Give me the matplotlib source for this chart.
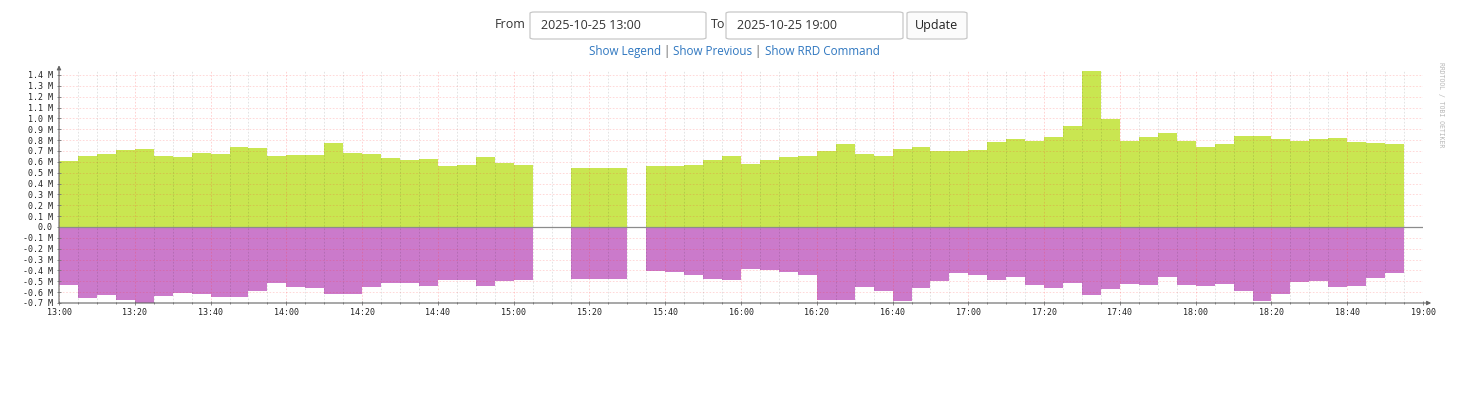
import numpy as np
import pandas as pd
import matplotlib
matplotlib.use("Agg")
import matplotlib.pyplot as plt
import matplotlib.dates as mdates
from matplotlib.patches import FancyBboxPatch

# ---------------------------
# Data (values in millions, 5-minute steps from 13:00)
# ---------------------------
start_time = "2025-10-25 13:00"
end_time = "2025-10-25 19:00"

inbound = [
    0.608, 0.657, 0.675, 0.712, 0.715, 0.651, 0.641, 0.681, 0.672, 0.733, 0.727, 0.654,
    0.666, 0.663, 0.777, 0.681, 0.672, 0.632, 0.614, 0.626, 0.565, 0.568, 0.641, 0.589,
    0.571, np.nan, np.nan, 0.546, 0.546, 0.546, np.nan, 0.562, 0.562, 0.568, 0.620, 0.657,
    0.580, 0.617, 0.645, 0.657, 0.700, 0.764, 0.669, 0.654, 0.718, 0.733, 0.700, 0.700,
    0.706, 0.783, 0.810, 0.792, 0.832, 0.933, 1.437, 0.994, 0.789, 0.826, 0.863, 0.789,
    0.737, 0.767, 0.838, 0.838, 0.810, 0.795, 0.807, 0.820, 0.783, 0.773, 0.767, np.nan,
]
outbound = [
    -0.534, -0.651, -0.626, -0.669, -0.703, -0.635, -0.605, -0.620, -0.641, -0.644, -0.586, -0.516,
    -0.553, -0.565, -0.614, -0.614, -0.553, -0.516, -0.516, -0.543, -0.491, -0.491, -0.540, -0.500,
    -0.488, np.nan, np.nan, -0.479, -0.479, -0.479, np.nan, -0.405, -0.411, -0.445, -0.479, -0.485,
    -0.384, -0.399, -0.417, -0.439, -0.675, -0.669, -0.555, -0.586, -0.678, -0.565, -0.497, -0.424,
    -0.445, -0.491, -0.463, -0.537, -0.565, -0.516, -0.629, -0.571, -0.525, -0.531, -0.457, -0.531,
    -0.543, -0.528, -0.592, -0.681, -0.617, -0.506, -0.497, -0.549, -0.543, -0.470, -0.421, np.nan,
]
y_ticks = [round(v, 1) for v in np.arange(-0.7, 1.41, 0.1)]

link_parts = ["Show Legend", " | ", "Show Previous", " | ", "Show RRD Command"]

GREEN = "#c9e651"
PURPLE = "#cb7acb"
LINK = "#2f77c0"

# ---------------------------
# Figure
# ---------------------------
W, H = 1483, 418
fig = plt.figure(figsize=(W / 100, H / 100), dpi=100)
fig.patch.set_facecolor("white")


def fx(px):
    return px / W


def fy(py):
    return 1 - py / H


def rounded_box(x0, x1, y0, y1, face):
    box = FancyBboxPatch((fx(x0), fy(y1)), fx(x1 - x0), (y1 - y0) / H,
                         boxstyle="round,pad=0,rounding_size=0.003",
                         transform=fig.transFigure, facecolor=face, edgecolor="#c8c8c8", lw=0.9)
    fig.add_artist(box)


# ---------------------------
# Top form: inputs, button, links
# ---------------------------
ui_font = "Open Sans"
fig.text(fx(526), fy(25), "From", ha="right", va="center", fontsize=9, color="#333333", family=ui_font)
fig.text(fx(711), fy(25), "To", ha="left", va="center", fontsize=9, color="#333333", family=ui_font)
for x0, x1, label in [(530, 706, "2025-10-25 13:00"), (726, 903, "2025-10-25 19:00")]:
    rounded_box(x0, x1, 12, 39, "white")
    fig.text(fx(x0 + 11), fy(25.5), label, ha="left", va="center", fontsize=9,
             color="#333333", family=ui_font)
rounded_box(907, 967, 12, 39, "#fbfbfb")
fig.text(fx(937), fy(25.5), "Update", ha="center", va="center", fontsize=9, color="#222222", family=ui_font)

fig.canvas.draw()
renderer = fig.canvas.get_renderer()
x_px = 589
for part in link_parts:
    col = "#555555" if part.strip() == "|" else LINK
    t = fig.text(fx(x_px), fy(51.5), part, ha="left", va="center", fontsize=8.4,
                 color=col, family=ui_font)
    x_px += t.get_window_extent(renderer).width

# ---------------------------
# Graph
# ---------------------------
ax = fig.add_axes([fx(59), 115 / H, fx(1423 - 59), 233.5 / H])

edges = pd.date_range(start_time, end_time, freq="5min")
edge_num = mdates.date2num(edges)

ax.stairs(np.array(inbound), edge_num, baseline=0, fill=True, color=GREEN, lw=0, zorder=1)
ax.stairs(np.array(outbound), edge_num, baseline=0, fill=True, color=PURPLE, lw=0, zorder=1)
ax.axhline(0, color="#8c8c8c", lw=0.9, zorder=3)

ax.set_xlim(edge_num[0], edge_num[-1])
ax.set_ylim(-0.7, 1.45)

ax.xaxis.set_major_locator(mdates.MinuteLocator(byminute=[0, 20, 40]))
ax.xaxis.set_minor_locator(mdates.MinuteLocator(byminute=range(0, 60, 5)))
ax.xaxis.set_major_formatter(mdates.DateFormatter("%H:%M"))
ax.set_yticks(y_ticks)
ax.set_yticklabels(["0.0" if v == 0 else f"{v:.1f} M" for v in y_ticks])

for lbl in ax.get_xticklabels() + ax.get_yticklabels():
    lbl.set_family("DejaVu Sans Mono")
    lbl.set_fontsize(6)
    lbl.set_color("#222222")

ax.tick_params(axis="both", which="both", direction="inout", color="#777777", width=0.6)
ax.tick_params(axis="y", length=3, pad=3)
ax.tick_params(axis="x", which="major", length=3, pad=2)
ax.tick_params(axis="x", which="minor", length=2)

ax.grid(True, which="minor", axis="x", color="#000000", alpha=0.13, lw=0.6, ls=(0, (2, 2)), zorder=2)
ax.grid(True, which="major", axis="x", color="#ff3333", alpha=0.25, lw=0.6, ls=(0, (2, 2)), zorder=2)
ax.grid(True, which="major", axis="y", color="#ff3333", alpha=0.22, lw=0.6, ls=(0, (2, 2)), zorder=2)
ax.set_axisbelow(False)

for side in ["top", "right", "left", "bottom"]:
    ax.spines[side].set_visible(False)

# axis lines with arrow heads, rrdtool style
arrow = dict(arrowstyle="-|>", color="#666666", lw=0.8, mutation_scale=6, shrinkA=0, shrinkB=0)
ax.annotate("", xy=(0, 1.018), xytext=(0, 0), xycoords="axes fraction", arrowprops=arrow,
            annotation_clip=False)
ax.annotate("", xy=(1.006, 0), xytext=(0, 0), xycoords="axes fraction", arrowprops=arrow,
            annotation_clip=False)

fig.text(fx(1441), fy(62), "RRDTOOL / TOBI OETIKER", rotation=270, ha="center", va="top",
         fontsize=4.7, color="#b8b8b8", family="DejaVu Sans Mono")

fig.savefig("out.png", dpi=100)
